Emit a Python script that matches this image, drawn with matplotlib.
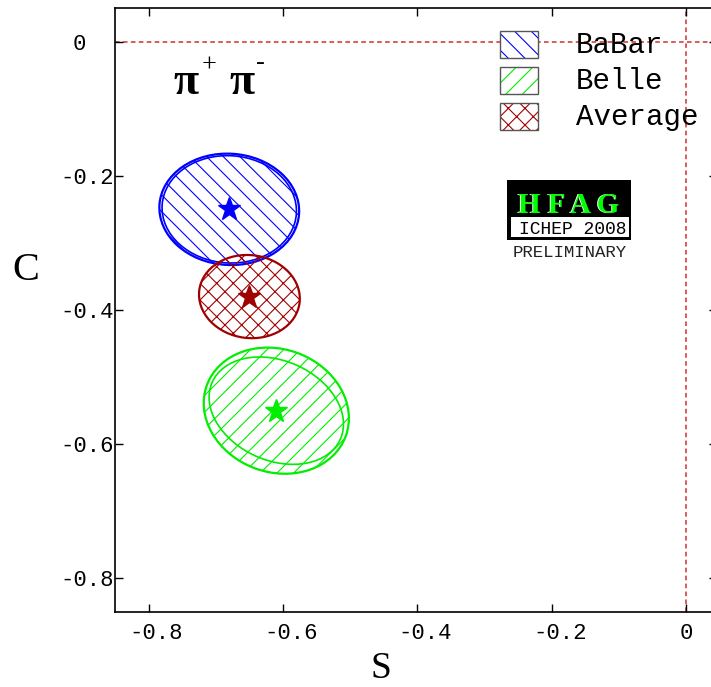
import numpy as np
import matplotlib
matplotlib.use("Agg")
import matplotlib.pyplot as plt
from matplotlib.patches import Ellipse, Rectangle
from matplotlib.transforms import ScaledTranslation

W, H = 711, 687

# values: S, C, 1-sigma widths and correlation
labels = ["BaBar", "Belle", "Average"]
colors = ["#0000ff", "#00ee00", "#a00000"]
hatches = ["\\\\", "//", "xx"]
S_val = [-0.68, -0.61, -0.65]
C_val = [-0.25, -0.55, -0.38]
# outer contour (stat + syst)
sig_S = [0.104, 0.108, 0.075]
sig_C = [0.083, 0.094, 0.062]
rho = [-0.03, -0.12, -0.05]
# inner contour (stat only), BaBar and Belle
sig_S_stat = [0.10, 0.10]
sig_C_stat = [0.08, 0.08]
rho_stat = [-0.03, -0.25]

xticks = [-0.8, -0.6, -0.4, -0.2, 0.0]
xtick_labels = ["-0.8", "-0.6", "-0.4", "-0.2", "0"]
yticks = [0.0, -0.2, -0.4, -0.6, -0.8]
ytick_labels = ["0  ", "-0.2", "-0.4", "-0.6", "-0.8"]

MONO = "Liberation Mono"
SERIF = "Liberation Serif"
plt.rcParams["axes.unicode_minus"] = False
plt.rcParams["hatch.linewidth"] = 0.8


def cov_ellipse(x, y, sx, sy, r, **kw):
    cov = np.array([[sx * sx, r * sx * sy], [r * sx * sy, sy * sy]])
    vals, vecs = np.linalg.eigh(cov)
    angle = np.degrees(np.arctan2(vecs[1, 1], vecs[0, 1]))
    return Ellipse((x, y), 2 * np.sqrt(vals[1]), 2 * np.sqrt(vals[0]),
                   angle=angle, **kw)


def px(x, y):
    # pixel position in the 711x687 picture -> figure fraction
    return x / W, 1 - y / H


fig = plt.figure(figsize=(W / 100, H / 100), dpi=100)
ax = fig.add_axes([115 / W, 75 / H, 601.5 / W, 604 / H])
ax.set_xlim(-0.85, 0.045)
ax.set_ylim(-0.85, 0.05)

# zero lines
ax.axhline(0, color="#d03030", lw=1.1, dashes=(3, 2.2), zorder=1)
ax.axvline(0, color="#d03030", lw=1.1, dashes=(3, 2.2), zorder=1)

for i in range(3):
    c = colors[i]
    ax.add_patch(cov_ellipse(S_val[i], C_val[i], sig_S[i], sig_C[i], rho[i],
                             facecolor="none", edgecolor=c, lw=1.6,
                             hatch=hatches[i], zorder=2 + i))
    if i < len(sig_S_stat):
        ax.add_patch(cov_ellipse(S_val[i], C_val[i], sig_S_stat[i],
                                 sig_C_stat[i], rho_stat[i],
                                 facecolor="none", edgecolor=c, lw=1.2,
                                 zorder=2 + i))
    ax.plot(S_val[i], C_val[i], marker="*", ms=17, color=c, mec=c,
            ls="none", zorder=6)

ax.set_xticks(xticks)
ax.set_xticklabels(xtick_labels, fontfamily=MONO, fontsize=16)
ax.set_yticks(yticks)
ax.set_yticklabels(ytick_labels, fontfamily=MONO, fontsize=16)
ax.tick_params(direction="in", length=6, width=1.0, top=True, right=True)
ax.tick_params(axis="x", pad=8)
ax.tick_params(axis="y", pad=1)
for spine in ax.spines.values():
    spine.set_linewidth(1.2)

# ROOT draws negative x labels a little to the right
shift = ScaledTranslation(8 / 100, 0, fig.dpi_scale_trans)
for lbl, val in zip(ax.get_xticklabels(), xticks):
    if val < 0:
        lbl.set_transform(lbl.get_transform() + shift)

# axis titles
fig.text(*px(26, 280), "C", family=SERIF, fontsize=29, ha="center",
         va="baseline")
fig.text(*px(381, 678), "S", family=SERIF, fontsize=27, ha="center",
         va="baseline")

# pi+ pi- label
fig.text(*px(173, 94), "\u03c0", family=SERIF, weight="bold", fontsize=33,
         ha="left", va="baseline")
fig.text(*px(209, 66), "+", family=SERIF, fontsize=19, ha="center",
         va="center")
fig.text(*px(229, 94), "\u03c0", family=SERIF, weight="bold", fontsize=33,
         ha="left", va="baseline")
fig.text(*px(260, 63), "-", family=SERIF, fontsize=19, ha="center",
         va="center")

# legend
box_top = [31, 67, 103]
for i in range(3):
    x0, y0 = px(500, box_top[i] + 27)
    fig.patches.append(Rectangle((x0, y0), 38 / W, 27 / H,
                                 transform=fig.transFigure, facecolor="white",
                                 edgecolor=colors[i], lw=0,
                                 hatch=hatches[i], zorder=5))
    fig.patches.append(Rectangle((x0, y0), 38 / W, 27 / H,
                                 transform=fig.transFigure, facecolor="none",
                                 edgecolor="#555555", lw=1.0, zorder=6))
    fig.text(*px(576, box_top[i] + 22), labels[i], family=MONO, fontsize=21,
             ha="left", va="baseline", zorder=7)

# HFAG logo
x0, y0 = px(507, 240)
fig.patches.append(Rectangle((x0, y0), 124 / W, 60 / H,
                             transform=fig.transFigure, facecolor="black",
                             edgecolor="none", zorder=5))
x0, y0 = px(511, 237)
fig.patches.append(Rectangle((x0, y0), 118 / W, 20 / H,
                             transform=fig.transFigure, facecolor="white",
                             edgecolor="none", zorder=6))
fig.text(*px(567.5, 213), "H F A G", family=SERIF, weight="bold",
         fontsize=21, color="white", ha="center", va="baseline", zorder=7)
fig.text(*px(569, 213), "H F A G", family=SERIF, weight="bold",
         fontsize=21, color="#00ff00", ha="center", va="baseline", zorder=8)
fig.text(*px(573, 234), "ICHEP 2008", family=MONO, fontsize=13,
         ha="center", va="baseline", zorder=8)
fig.text(*px(570, 257), "PRELIMINARY", family=MONO, fontsize=12.5,
         color="#222222", ha="center", va="baseline", zorder=8)

fig.savefig("out.png", dpi=100)
